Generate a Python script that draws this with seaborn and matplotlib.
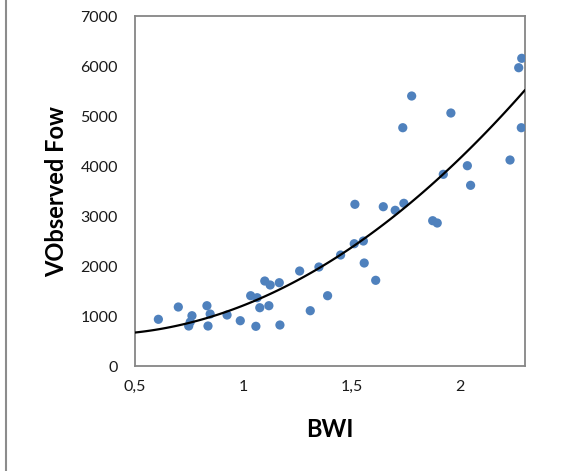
import matplotlib
matplotlib.use("Agg")
import matplotlib.pyplot as plt
from matplotlib.lines import Line2D
import numpy as np
import pandas as pd
import seaborn as sns

# Basin wetness index vs observed flow
bwi = [0.608, 0.700, 0.763, 0.755, 0.748, 0.832, 0.847, 0.837, 0.925, 0.986,
       1.034, 1.064, 1.076, 1.058, 1.099, 1.124, 1.166, 1.118, 1.169, 1.260,
       1.349, 1.309, 1.389, 1.449, 1.512, 1.554, 1.558, 1.611, 1.515, 1.646,
       1.701, 1.741, 1.874, 1.895, 1.923, 2.034, 2.049, 2.231, 1.777, 1.958,
       1.736, 2.283, 2.271, 2.285]
flow = [934, 1180, 1006, 880, 800, 1206, 1040, 800, 1020, 906,
        1406, 1366, 1166, 794, 1700, 1620, 1666, 1206, 820, 1900,
        1980, 1106, 1406, 2220, 2446, 2500, 2060, 1714, 3234, 3186,
        3114, 3254, 2906, 2860, 3834, 4006, 3614, 4120, 5400, 5060,
        4766, 4766, 5966, 6154]

x_ticks = [0.5, 1, 1.5, 2]
x_tick_labels = ["0,5", "1", "1,5", "2"]
y_ticks = [0, 1000, 2000, 3000, 4000, 5000, 6000, 7000]

df = pd.DataFrame({"BWI": bwi, "Flow": flow})

sns.set_theme(style="white")
plt.rcParams["font.family"] = ["Lato", "DejaVu Sans"]

fig = plt.figure(figsize=(5.61, 4.71), dpi=100)
ax = fig.add_axes([0.2406, 0.2229, 0.6952, 0.7431])
ax.set_xlim(0.5, 2.3)
ax.set_ylim(0, 7000)

sns.regplot(data=df, x="BWI", y="Flow", order=2, ci=None, truncate=False,
            ax=ax,
            scatter_kws=dict(s=44, color="#4F81BD", edgecolor="none", alpha=1, zorder=3),
            line_kws=dict(color="black", lw=1.6, zorder=4))

ax.set_xlim(0.5, 2.3)
ax.set_ylim(0, 7000)
ax.set_xticks(x_ticks, x_tick_labels)
ax.set_yticks(y_ticks, [str(v) for v in y_ticks])

for sp in ax.spines.values():
    sp.set_visible(True)
    sp.set_color("#868686")
    sp.set_linewidth(1.3)

ax.tick_params(axis="both", which="major", direction="inout", length=6.5,
               width=1.3, color="#868686", labelsize=11.5, labelcolor="#1a1a1a")
ax.tick_params(axis="x", pad=7)
ax.tick_params(axis="y", pad=9)

ax.set_xlabel("BWI", fontsize=17, fontweight="bold", labelpad=17, color="black")
ax.set_ylabel("VObserved Fow", fontsize=17, fontweight="bold", labelpad=9, color="black")

# left edge rule of the chart frame
fig.add_artist(Line2D([6 / 561, 6 / 561], [0, 1], transform=fig.transFigure,
                      color="#8c8c8c", lw=1.5))

fig.savefig("out.png", dpi=100)
